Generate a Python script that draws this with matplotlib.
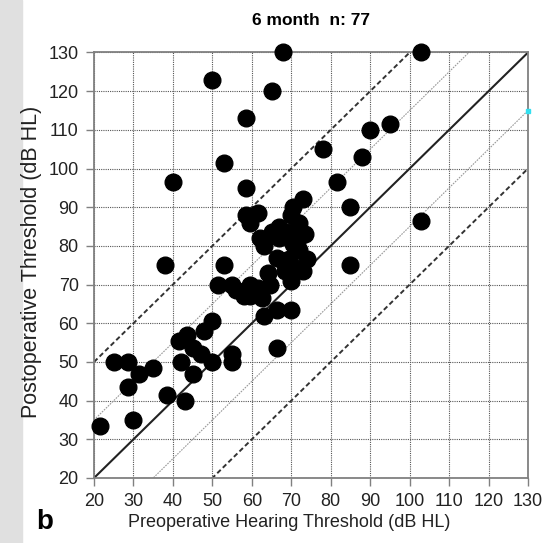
import numpy as np
import matplotlib.pyplot as plt
from matplotlib.patches import Rectangle

plt.rcParams['font.family'] = ['Liberation Sans', 'DejaVu Sans']

# preoperative / postoperative thresholds (dB HL)
pre = [103, 68, 50, 65, 58.5, 53, 40, 58.5, 78, 88, 90, 95, 81.5, 85, 103, 85, 38, 53,
       21.5, 30, 25, 28.5, 28.5, 31.5, 35, 38.5, 43, 42, 41.5, 43.5, 45, 45, 50, 55, 55,
       48, 50, 66.5,
       73, 70.5, 70, 61.5, 58.5, 59.5, 65, 63, 69.5, 73.5, 67, 70.5, 66.5, 69.5, 74,
       68.5, 73, 70.5, 51.5, 55, 58, 59.5, 59.5, 62.5, 64.5, 63, 66.5, 70,
       67, 71.5, 72, 68, 62, 56, 61.5, 47, 72, 64, 70]
post = [130, 130, 123, 120, 113, 101.5, 96.5, 95, 105, 103, 110, 111.5, 96.5, 90, 86.5, 75, 75, 75,
        33.5, 35, 50, 50, 43.5, 47, 48.5, 41.5, 40, 50, 55.5, 57, 53.5, 47, 50, 52, 50,
        58, 60.5, 53.5,
        92, 90, 88, 88.5, 88, 86, 83.5, 80, 83.5, 83, 82, 80.5, 77, 76.5, 76.5,
        73.5, 73.5, 74.5, 70, 70, 67, 70, 67, 66.5, 70, 62, 63.5, 63.5,
        85, 81, 86, 76, 82, 68.5, 69, 52, 79, 73, 71]

title = "6 month  n: 77"
xlabel = "Preoperative Hearing Threshold (dB HL)"
ylabel = "Postoperative Threshold (dB HL)"
ticks = list(range(20, 131, 10))

fig = plt.figure(figsize=(5.44, 5.43), dpi=100)
fig.patches.append(Rectangle((0, 0), 22 / 544, 1, transform=fig.transFigure,
                             color='#e0e0e0', zorder=-5))

ax = fig.add_axes([94 / 544, 1 - 478 / 543, 434 / 544, 425.5 / 543])

xx = np.array([20, 130])
ax.plot(xx, xx, color='#222222', lw=1.5, zorder=2)
for off in (15, -15):
    ax.plot(xx, xx + off, color='#999999', lw=0.8, ls=(0, (1.5, 1)), zorder=2)
for off in (30, -30):
    ax.plot(xx, xx + off, color='#333333', lw=1.4, ls=(0, (2.5, 1.5)), zorder=2)

ax.plot(pre, post, 'o', color='black', ms=12, zorder=3, clip_on=False)
ax.plot([130], [115], 's', color='#33e0f0', ms=3, zorder=4, clip_on=False)

ax.set_xlim(20, 130)
ax.set_ylim(20, 130)
ax.set_xticks(ticks)
ax.set_yticks(ticks)
ax.grid(True, color='#555555', lw=0.8, ls=(0, (1, 1)))
ax.set_axisbelow(True)
for s in ax.spines.values():
    s.set_color('#808080')
    s.set_linewidth(1.3)
ax.tick_params(direction='out', length=6, width=1, color='#808080',
               labelsize=13, labelcolor='#222222', pad=5)

ax.set_title(title, fontsize=12.5, fontweight='bold', pad=20)
ax.set_xlabel(xlabel, fontsize=13, color='#222222', labelpad=3)
ax.xaxis.label.set_x(0.45)
ax.set_ylabel(ylabel, fontsize=15.5, color='#222222')
ax.yaxis.set_label_coords(-0.12, 0.508)
fig.text(45 / 544, 1 - 522 / 543, 'b', fontsize=20, fontweight='bold',
         ha='center', va='center')

fig.savefig('out.png', dpi=100)
